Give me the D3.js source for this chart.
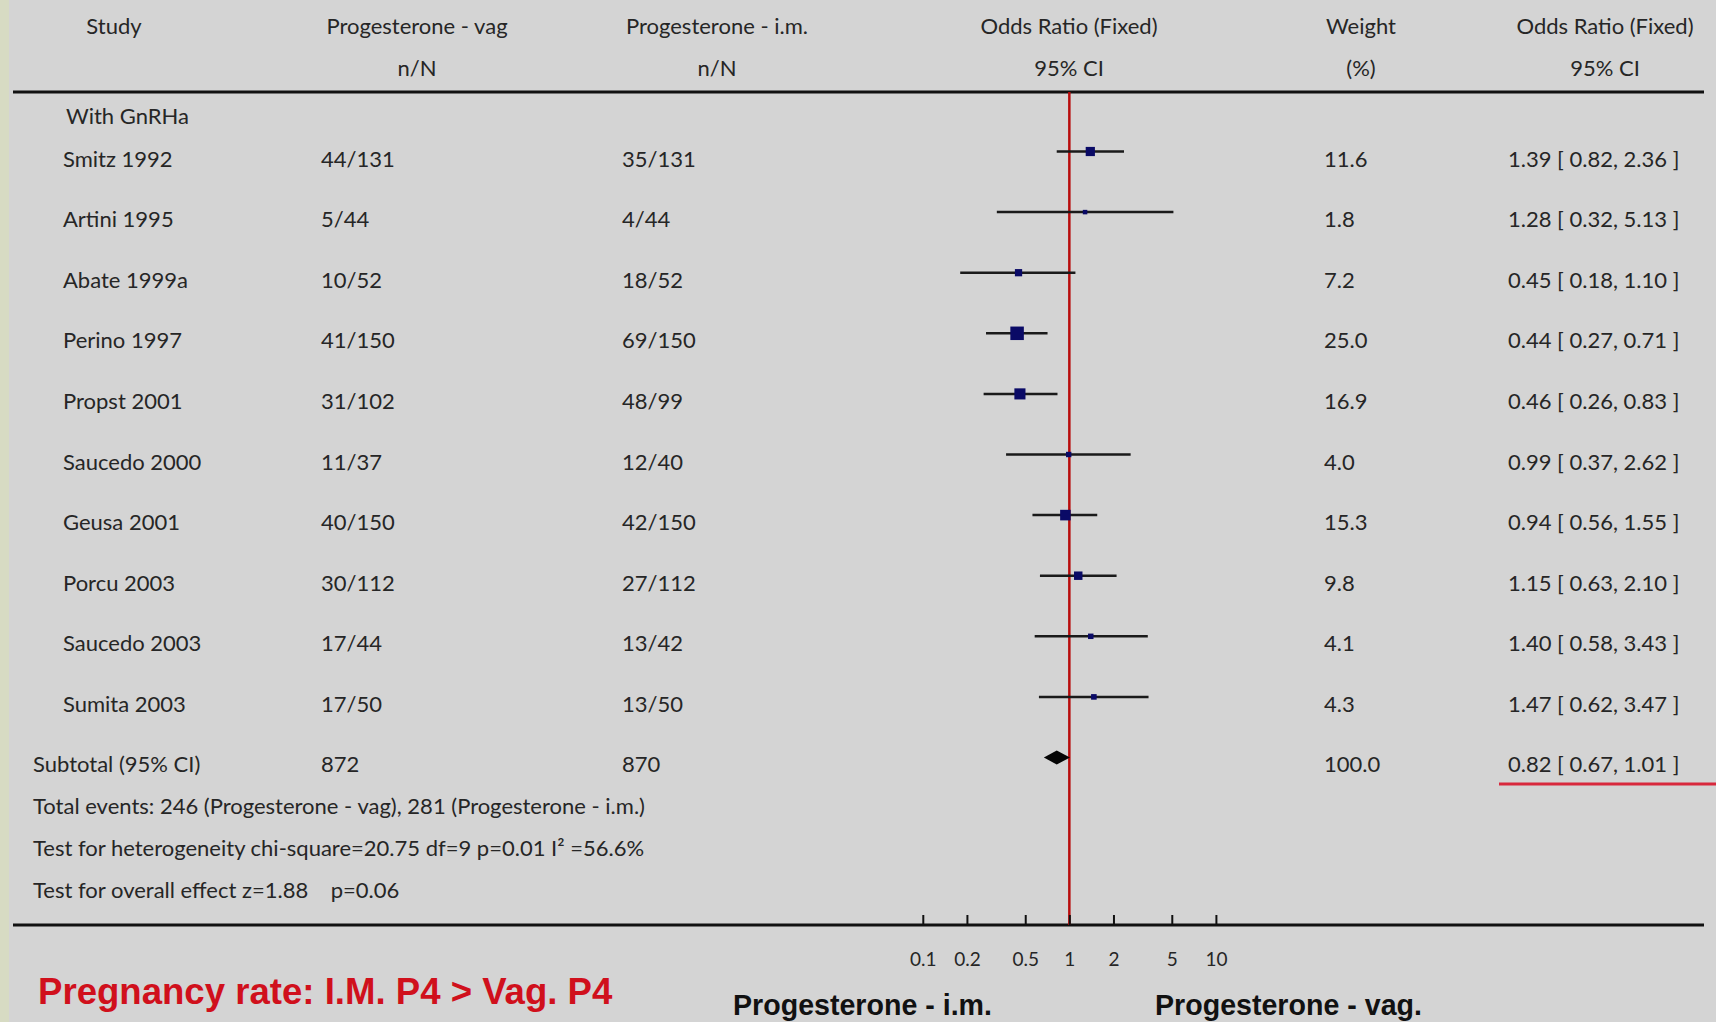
<!DOCTYPE html>
<html>
<head>
<meta charset="utf-8">
<script src="https://cdn.jsdelivr.net/npm/d3@7"></script>
<style>
  body { margin: 0; background: #d4d4d4; }
  svg { display: block; }
  .tbl { font-family: Lato, "Open Sans", sans-serif; font-size: 22px; fill: #262626; }
</style>
</head>
<body>
<div id="chart"></div>
<script>
const studies = ['Smitz 1992', 'Artini 1995', 'Abate 1999a', 'Perino 1997', 'Propst 2001',
  'Saucedo 2000', 'Geusa 2001', 'Porcu 2003', 'Saucedo 2003', 'Sumita 2003'];
const vagEvents = ['44/131', '5/44', '10/52', '41/150', '31/102', '11/37', '40/150', '30/112', '17/44', '17/50'];
const imEvents = ['35/131', '4/44', '18/52', '69/150', '48/99', '12/40', '42/150', '27/112', '13/42', '13/50'];
const oddsRatio = [1.39, 1.28, 0.45, 0.44, 0.46, 0.99, 0.94, 1.15, 1.40, 1.47];
const ciLow = [0.82, 0.32, 0.18, 0.27, 0.26, 0.37, 0.56, 0.63, 0.58, 0.62];
const ciHigh = [2.36, 5.13, 1.10, 0.71, 0.83, 2.62, 1.55, 2.10, 3.43, 3.47];
const weights = [11.6, 1.8, 7.2, 25.0, 16.9, 4.0, 15.3, 9.8, 4.1, 4.3];

const subtotal = { label: 'Subtotal (95% CI)', vag: '872', im: '870', or: 0.82, lo: 0.67, hi: 1.01, weight: 100.0 };
const footLines = [
  'Total events: 246 (Progesterone - vag), 281 (Progesterone - i.m.)',
  'Test for heterogeneity chi-square=20.75 df=9 p=0.01 I\u00B2 =56.6%',
  'Test for overall effect z=1.88\u00A0\u00A0\u00A0\u00A0p=0.06'
];
const axisTicks = [0.1, 0.2, 0.5, 1, 2, 5, 10];

const width = 1716;
const height = 1022;

const svg = d3.select('#chart')
  .append('svg')
  .attr('width', width)
  .attr('height', height);

svg.append('rect').attr('width', width).attr('height', height).attr('fill', '#d4d4d4');
svg.append('rect').attr('width', 9).attr('height', height).attr('fill', '#d7dbc3');

const x = d3.scaleLog().domain([0.1, 10]).range([922.8, 1215.9]);
const rowKeys = studies.concat(['__subtotal']);
const y = d3.scalePoint().domain(rowKeys).range([151.5, 757.5]);
const boxSize = d3.scaleSqrt().domain([0, 25]).range([0, 13.5]);

const fmt = d3.format('.2f');
const orText = (o, l, h) => `${fmt(o)} [ ${fmt(l)}, ${fmt(h)} ]`;

// header
const headers = [
  { x: 114, t1: 'Study', t2: '' },
  { x: 417, t1: 'Progesterone - vag', t2: 'n/N' },
  { x: 717, t1: 'Progesterone - i.m.', t2: 'n/N' },
  { x: 1069, t1: 'Odds Ratio (Fixed)', t2: '95% CI' },
  { x: 1361, t1: 'Weight', t2: '(%)' },
  { x: 1605, t1: 'Odds Ratio (Fixed)', t2: '95% CI' }
];
const head = svg.append('g').attr('class', 'tbl').attr('text-anchor', 'middle');
head.selectAll('.h1').data(headers).enter().append('text')
  .attr('x', d => d.x).attr('y', 34).text(d => d.t1);
head.selectAll('.h2').data(headers).enter().append('text')
  .attr('x', d => d.x).attr('y', 76).text(d => d.t2);

// rules
svg.append('line').attr('x1', 13).attr('x2', 1704).attr('y1', 92).attr('y2', 92)
  .attr('stroke', '#111').attr('stroke-width', 3);
svg.append('line').attr('x1', 13).attr('x2', 1704).attr('y1', 925).attr('y2', 925)
  .attr('stroke', '#111').attr('stroke-width', 3);

// line of no effect
svg.append('line').attr('x1', x(1)).attr('x2', x(1)).attr('y1', 92).attr('y2', 925)
  .attr('stroke', '#b80c0c').attr('stroke-width', 2.5);

const tbl = svg.append('g').attr('class', 'tbl');
tbl.append('text').attr('x', 66).attr('y', 124).text('With GnRHa');

const rows = tbl.selectAll('.row').data(studies).enter().append('g')
  .attr('transform', d => `translate(0,${y(d) + 15})`);
rows.append('text').attr('x', 63).text(d => d);
rows.append('text').attr('x', 321).text((d, i) => vagEvents[i]);
rows.append('text').attr('x', 622).text((d, i) => imEvents[i]);
rows.append('text').attr('x', 1324).text((d, i) => weights[i].toFixed(1));
rows.append('text').attr('x', 1508).text((d, i) => orText(oddsRatio[i], ciLow[i], ciHigh[i]));

// CI lines and boxes
const marks = svg.append('g');
marks.selectAll('.ci').data(studies).enter().append('line')
  .attr('x1', (d, i) => x(ciLow[i])).attr('x2', (d, i) => x(ciHigh[i]))
  .attr('y1', d => y(d)).attr('y2', d => y(d))
  .attr('stroke', '#1a1a1a').attr('stroke-width', 2.5);
const side = i => Math.max(boxSize(weights[i]), 4.5);
marks.selectAll('.box').data(studies).enter().append('rect')
  .attr('x', (d, i) => x(oddsRatio[i]) - side(i) / 2)
  .attr('y', (d, i) => y(d) - side(i) / 2)
  .attr('width', (d, i) => side(i))
  .attr('height', (d, i) => side(i))
  .attr('fill', '#0a0a66');

// subtotal
const sy = y('__subtotal');
marks.append('path')
  .attr('d', `M${x(subtotal.lo)},${sy} L${x(subtotal.or)},${sy - 7} L${x(subtotal.hi)},${sy} L${x(subtotal.or)},${sy + 7} Z`)
  .attr('fill', '#050505');

const sub = tbl.append('g').attr('transform', `translate(0,${sy + 14})`);
sub.append('text').attr('x', 33).text(subtotal.label);
sub.append('text').attr('x', 321).text(subtotal.vag);
sub.append('text').attr('x', 622).text(subtotal.im);
sub.append('text').attr('x', 1324).text(subtotal.weight.toFixed(1));
sub.append('text').attr('x', 1508).text(orText(subtotal.or, subtotal.lo, subtotal.hi));
svg.append('line').attr('x1', 1499).attr('x2', 1716).attr('y1', 784).attr('y2', 784)
  .attr('stroke', '#d8283c').attr('stroke-width', 3);

tbl.selectAll('.foot').data(footLines).enter().append('text')
  .attr('x', 33).attr('y', (d, i) => 814 + i * 42).text(d => d);

// axis
const axis = svg.append('g')
  .attr('transform', 'translate(0,925)')
  .call(d3.axisBottom(x).tickValues(axisTicks).tickSize(-10).tickPadding(28)
    .tickFormat(d => String(d)));
axis.select('.domain').remove();
axis.selectAll('.tick line').attr('stroke', '#111').attr('stroke-width', 2);
axis.selectAll('.tick text')
  .attr('font-family', 'Lato, sans-serif').attr('font-size', 19).attr('fill', '#262626');

svg.append('text').attr('x', 733).attr('y', 1015)
  .attr('font-family', '"Liberation Sans", Arial, sans-serif').attr('font-weight', 'bold')
  .attr('font-size', 28.6).attr('fill', '#111').text('Progesterone - i.m.');
svg.append('text').attr('x', 1155).attr('y', 1015)
  .attr('font-family', '"Liberation Sans", Arial, sans-serif').attr('font-weight', 'bold')
  .attr('font-size', 28.6).attr('fill', '#111').text('Progesterone - vag.');

svg.append('text').attr('x', 38).attr('y', 1004)
  .attr('font-family', '"Liberation Sans", Arial, sans-serif').attr('font-weight', 'bold')
  .attr('font-size', 36.6).attr('fill', '#d0101c').text('Pregnancy rate: I.M. P4 > Vag. P4');
</script>
</body>
</html>
